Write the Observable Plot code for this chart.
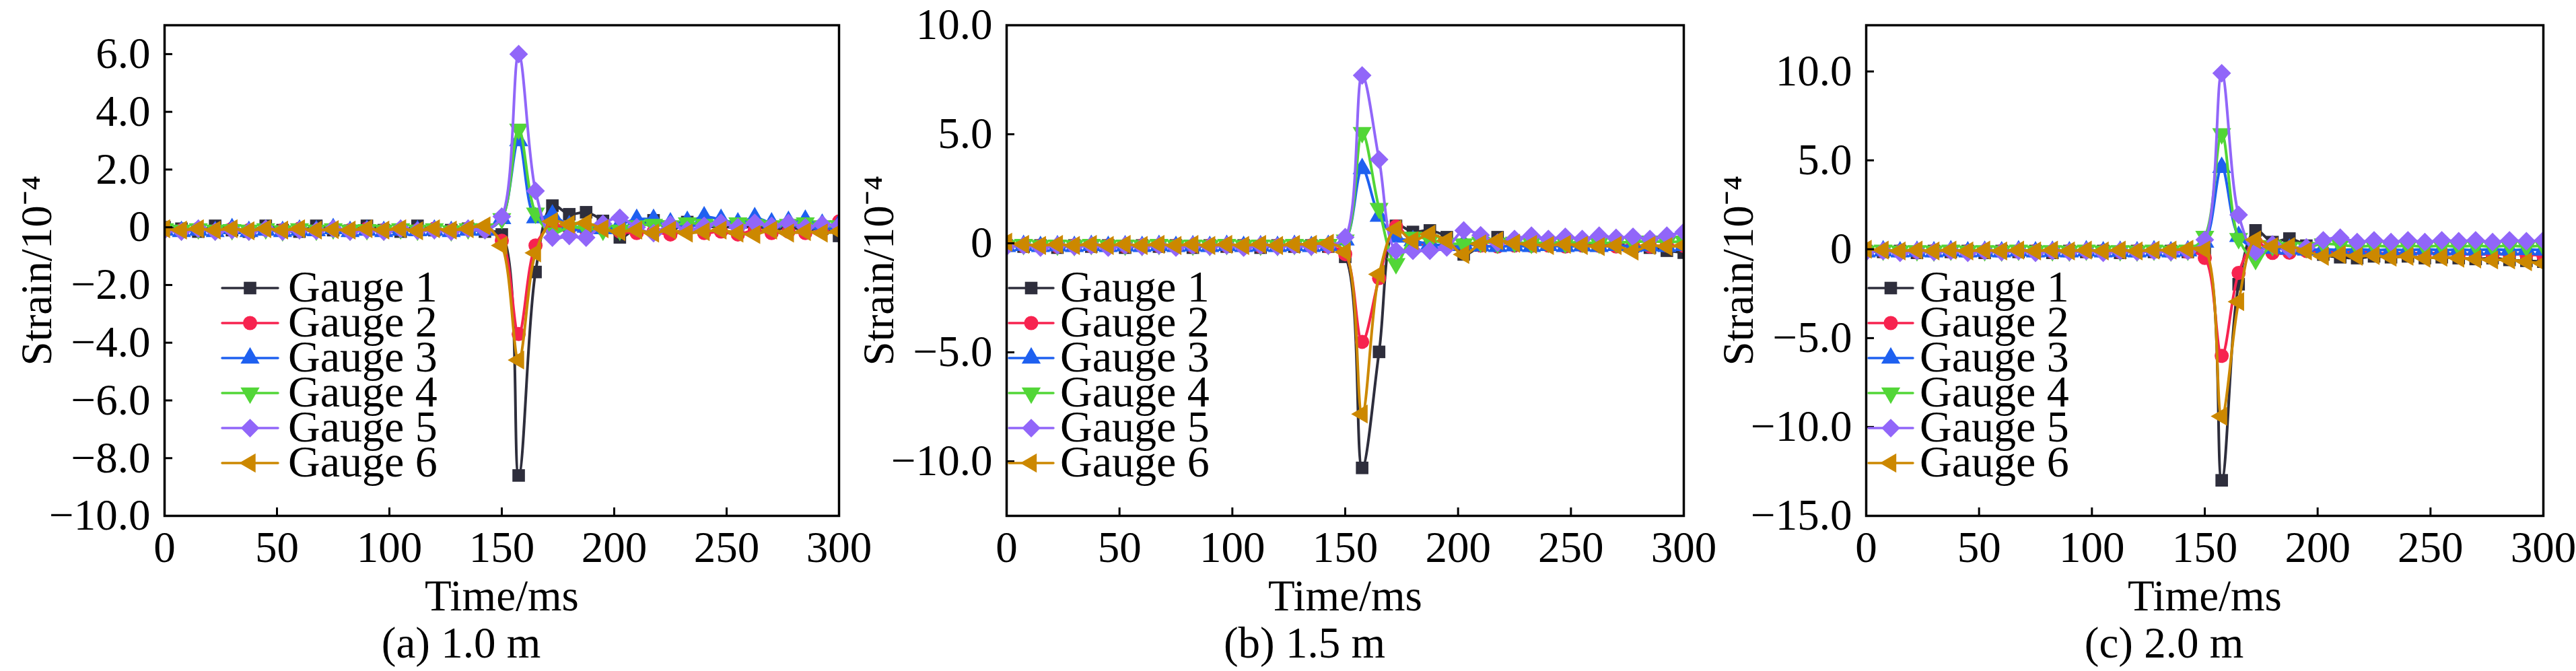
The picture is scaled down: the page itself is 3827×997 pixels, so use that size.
<!DOCTYPE html>
<html><head><meta charset="utf-8">
<script src="https://cdn.jsdelivr.net/npm/d3@7"></script>
<script src="https://cdn.jsdelivr.net/npm/@observablehq/plot@0.6"></script>
<style>
html,body{margin:0;padding:0;background:#fff;}
#root{position:relative;width:3827px;height:997px;overflow:hidden;background:#fff;}
#root > div.panel{position:absolute;top:0;}
#overlay{position:absolute;left:0;top:0;pointer-events:none;}
</style></head><body><div id="root"></div>
<script>
const FONT = '"Liberation Serif","Times New Roman",serif';

// sample times (ms)
const time = [0,7.5,15,22.5,30,37.5,45,52.5,60,67.5,75,82.5,90,97.5,105,112.5,120,127.5,135,142.5,150,157.5,165,172.5,180,187.5,195,202.5,210,217.5,225,232.5,240,247.5,255,262.5,270,277.5,285,292.5,300];

const gauges = ["Gauge 1","Gauge 2","Gauge 3","Gauge 4","Gauge 5","Gauge 6"];
const colors = ["#2e2e3c","#f7234f","#1e60f0","#52d637","#9166f9","#cc8800"];
const symbols = ["square","circle","triangle","triangle","diamond2","triangle"];
const rotations = [0,0,0,180,0,-90];
const radii = [10.5,10.5,10.5,10.5,12.5,10.5];

const xTicks = [0,50,100,150,200,250,300];

// (a) 1.0 m
const a1 = [0.0,-0.05,-0.15,0.05,-0.1,-0.15,0.05,-0.1,-0.15,0.05,-0.1,-0.12,0.05,-0.1,-0.15,0.05,-0.1,-0.1,-0.05,-0.15,-0.25,-8.6,-1.55,0.75,0.45,0.52,0.22,-0.35,0.0,0.24,-0.12,0.18,0.0,0.05,-0.05,0.05,-0.1,0.0,-0.1,-0.05,-0.3];
const a2 = [-0.05,-0.1,-0.05,-0.12,-0.05,-0.1,-0.08,-0.1,-0.05,-0.12,-0.05,-0.1,-0.05,-0.1,-0.08,-0.1,-0.05,-0.12,-0.05,-0.1,-0.47,-3.7,-0.63,0.05,-0.05,-0.1,-0.06,-0.15,-0.2,-0.15,-0.25,-0.1,-0.2,-0.15,-0.25,-0.1,-0.2,-0.15,-0.2,-0.1,0.2];
const a3 = [-0.1,-0.15,-0.1,-0.15,-0.05,-0.15,-0.1,-0.15,-0.1,-0.12,-0.05,-0.15,-0.1,-0.15,-0.1,-0.12,-0.1,-0.15,-0.1,-0.1,0.3,3.0,0.33,0.42,0.05,0.0,-0.05,0.1,0.27,0.27,0.15,0.2,0.36,0.27,0.15,0.33,0.15,0.2,0.24,0.1,0.1];
const a4 = [-0.05,-0.1,-0.05,-0.1,-0.08,-0.1,-0.05,-0.12,-0.05,-0.1,-0.05,-0.1,-0.08,-0.1,-0.05,-0.1,-0.05,-0.12,-0.05,-0.05,0.3,3.4,0.49,-0.2,0.0,-0.05,-0.1,-0.1,0.05,0.1,0.05,0.15,0.1,0.05,0.15,0.1,0.05,0.1,0.15,0.05,0.05];
const a5 = [-0.1,-0.15,-0.05,-0.15,-0.1,-0.15,-0.05,-0.15,-0.1,-0.12,-0.05,-0.15,-0.1,-0.15,-0.05,-0.12,-0.1,-0.15,-0.05,-0.1,0.37,6.0,1.26,-0.36,-0.3,-0.36,0.12,0.33,0.0,-0.2,0.1,-0.1,0.05,0.15,0.0,0.15,0.05,0.15,0.0,0.1,0.05];
const a6 = [-0.05,-0.1,-0.05,-0.1,-0.05,-0.12,-0.05,-0.1,-0.05,-0.1,-0.08,-0.1,-0.05,-0.1,-0.05,-0.12,-0.05,-0.1,-0.05,0.05,-0.63,-4.6,-0.89,0.2,0.1,0.15,-0.05,-0.15,-0.1,-0.2,-0.1,-0.2,-0.15,-0.1,-0.2,-0.25,-0.1,-0.2,-0.15,-0.2,-0.15];

// (b) 1.5 m
const b1 = [-0.1,-0.15,-0.1,-0.2,-0.1,-0.15,-0.1,-0.2,-0.1,-0.15,-0.1,-0.2,-0.1,-0.15,-0.1,-0.2,-0.1,-0.15,-0.1,-0.15,-0.62,-10.3,-4.98,0.8,0.52,0.59,0.28,-0.51,-0.1,0.28,0.0,-0.05,0.0,-0.1,-0.05,-0.1,-0.05,-0.15,-0.2,-0.34,-0.43];
const b2 = [-0.1,-0.12,-0.1,-0.15,-0.1,-0.12,-0.1,-0.15,-0.1,-0.12,-0.1,-0.15,-0.1,-0.12,-0.1,-0.15,-0.1,-0.12,-0.1,-0.15,-0.5,-4.52,-1.6,0.77,0.03,-0.05,-0.1,-0.05,-0.1,-0.15,-0.1,-0.12,-0.1,-0.15,-0.1,-0.12,-0.15,-0.1,-0.15,-0.1,-0.12];
const b3 = [-0.15,-0.1,-0.15,-0.12,-0.15,-0.1,-0.15,-0.12,-0.15,-0.1,-0.15,-0.12,-0.15,-0.1,-0.15,-0.12,-0.15,-0.1,-0.15,-0.1,0.15,3.42,1.24,0.28,0.12,-0.03,-0.1,-0.03,-0.12,-0.15,-0.12,-0.15,-0.1,-0.15,-0.12,-0.15,-0.1,-0.15,-0.12,-0.15,-0.1];
const b4 = [-0.1,-0.05,-0.1,-0.08,-0.1,-0.05,-0.1,-0.08,-0.1,-0.05,-0.1,-0.08,-0.1,-0.05,-0.1,-0.08,-0.1,-0.05,-0.1,-0.05,0.15,5.08,1.6,-0.93,0.28,0.15,0.0,-0.03,0.05,0.0,0.05,0.0,0.05,0.02,0.05,0.0,0.05,0.05,0.1,0.05,0.1];
const b5 = [-0.15,-0.1,-0.2,-0.1,-0.15,-0.1,-0.2,-0.1,-0.15,-0.1,-0.2,-0.1,-0.15,-0.1,-0.2,-0.1,-0.15,-0.1,-0.15,-0.1,0.28,7.7,3.84,-0.34,-0.34,-0.34,-0.19,0.59,0.37,0.03,0.2,0.35,0.2,0.3,0.2,0.35,0.25,0.3,0.2,0.35,0.52];
const b6 = [0.05,-0.05,-0.1,-0.05,-0.1,-0.05,-0.1,-0.05,-0.1,-0.05,-0.1,-0.05,-0.1,-0.05,-0.1,-0.05,-0.1,-0.05,-0.05,0.0,-0.4,-7.83,-1.42,0.65,0.12,0.42,0.12,-0.51,-0.03,0.12,0.0,-0.05,-0.1,-0.05,-0.1,-0.15,-0.1,-0.36,-0.1,-0.15,-0.1];

// (c) 2.0 m
const c1 = [-0.1,-0.15,-0.1,-0.2,-0.1,-0.15,-0.1,-0.2,-0.1,-0.15,-0.1,-0.2,-0.1,-0.15,-0.1,-0.2,-0.1,-0.15,-0.1,-0.15,-0.23,-13.0,-1.97,1.06,0.4,0.6,0.2,-0.3,-0.45,-0.5,-0.4,-0.45,-0.4,-0.5,-0.45,-0.5,-0.55,-0.5,-0.6,-0.65,-0.7];
const c2 = [-0.1,-0.12,-0.1,-0.15,-0.1,-0.12,-0.1,-0.15,-0.1,-0.12,-0.1,-0.15,-0.1,-0.12,-0.1,-0.15,-0.1,-0.12,-0.1,-0.15,-0.49,-6.0,-1.33,0.42,-0.21,-0.2,-0.1,-0.15,-0.2,-0.15,-0.2,-0.25,-0.2,-0.25,-0.2,-0.3,-0.25,-0.3,-0.25,-0.3,-0.35];
const c3 = [-0.15,-0.1,-0.15,-0.12,-0.15,-0.1,-0.15,-0.12,-0.15,-0.1,-0.15,-0.12,-0.15,-0.1,-0.15,-0.12,-0.15,-0.1,-0.15,-0.1,0.4,4.6,0.72,0.08,0.05,0.0,-0.05,0.0,-0.05,0.0,-0.05,-0.02,-0.05,0.0,-0.05,-0.02,-0.05,0.0,-0.05,-0.02,-0.05];
const c4 = [-0.1,-0.05,-0.1,-0.08,-0.1,-0.05,-0.1,-0.08,-0.1,-0.05,-0.1,-0.08,-0.1,-0.05,-0.1,-0.08,-0.1,-0.05,-0.1,-0.05,0.72,6.5,0.6,-0.57,0.2,0.1,0.1,0.3,0.25,0.15,0.2,0.15,0.2,0.15,0.2,0.15,0.2,0.15,0.2,0.15,0.2];
const c5 = [-0.15,-0.1,-0.2,-0.1,-0.15,-0.1,-0.2,-0.1,-0.15,-0.1,-0.2,-0.1,-0.15,-0.1,-0.2,-0.1,-0.15,-0.1,-0.15,-0.1,0.53,9.9,1.93,-0.15,0.27,0.0,0.1,0.5,0.65,0.4,0.5,0.4,0.5,0.4,0.5,0.45,0.5,0.4,0.5,0.45,0.5];
const c6 = [0.0,-0.05,-0.1,-0.05,-0.1,-0.05,-0.1,-0.05,-0.1,-0.05,-0.1,-0.05,-0.1,-0.05,-0.1,-0.05,-0.1,-0.05,-0.05,0.0,-0.04,-9.4,-2.95,0.53,0.15,0.15,-0.1,-0.4,-0.3,-0.4,-0.35,-0.45,-0.4,-0.5,-0.45,-0.5,-0.55,-0.6,-0.6,-0.7,-0.8];

const panels = [
  {series:[a1,a2,a3,a4,a5,a6], yDomain:[-10,7], yTicks:[-10,-8,-6,-4,-2,0,2,4,6], caption:"(a) 1.0 m",
   svgLeft:0, width:1276, marginLeft:244, marginRight:30, legendLine:[86,169], legendText:184},
  {series:[b1,b2,b3,b4,b5,b6], yDomain:[-12.5,10], yTicks:[-10,-5,0,5,10], caption:"(b) 1.5 m",
   svgLeft:1276, width:1255, marginLeft:219, marginRight:30, legendLine:[4,70], legendText:80},
  {series:[c1,c2,c3,c4,c5,c6], yDomain:[-15,12.6], yTicks:[-15,-10,-5,0,5,10], caption:"(c) 2.0 m",
   svgLeft:2531, width:1296, marginLeft:241, marginRight:49, legendLine:[4,70], legendText:80}
];

const H = 940, MT = 37, MB = 174;
const fmt = d => d === 0 ? "0" : d3.format(".1f")(d);
const blank = () => "";
const root = document.getElementById("root");

panels.forEach(p => {
  const marks = [];
  p.series.forEach((vals, gi) => {
    const rows = time.map((t, i) => ({t, v: vals[i]}));
    marks.push(Plot.line(rows, {x:"t", y:"v", stroke: colors[gi], strokeWidth: 4, curve: "catmull-rom", clip: true}));
    marks.push(Plot.dot(rows, {x:"t", y:"v", symbol: symbols[gi], rotate: rotations[gi], r: radii[gi], fill: colors[gi], stroke: "none", clip: true}));
  });
  // inward tick marks
  marks.push(Plot.axisY({ticks: p.yTicks, tickSize: 12, dx: 12, tickFormat: blank, label: null, strokeWidth: 3}));
  // tick labels and title
  marks.push(Plot.axisY({ticks: p.yTicks, tickSize: 0, tickPadding: 21, tickFormat: fmt, fontSize: 65,
    label: "Strain/10\u207B\u2074", labelAnchor: "center", labelOffset: 215, labelArrow: "none"}));
  marks.push(Plot.axisX({ticks: xTicks, tickSize: 12, dy: -12, tickFormat: blank, label: null, strokeWidth: 3}));
  marks.push(Plot.axisX({ticks: xTicks, tickSize: 0, tickPadding: 22, fontSize: 65,
    label: "Time/ms", labelAnchor: "center", labelOffset: 140, labelArrow: "none"}));
  marks.push(Plot.frame({stroke: "black", strokeWidth: 3.5}));

  const chart = Plot.plot({
    width: p.width, height: H,
    marginLeft: p.marginLeft, marginRight: p.marginRight, marginTop: MT, marginBottom: MB,
    x: {domain: [0, 300]},
    y: {domain: p.yDomain},
    style: {fontFamily: FONT, fontSize: "65px", color: "black", background: "transparent", overflow: "visible"},
    marks
  });
  const wrap = document.createElement("div");
  wrap.className = "panel";
  wrap.style.left = p.svgLeft + "px";
  wrap.appendChild(chart);
  root.appendChild(wrap);
});

// overlay: legends inside each frame and captions below
const ov = d3.select(root).append("svg").attr("id","overlay").attr("width",3827).attr("height",997);
const legendRows = [428, 480, 532, 584, 636, 688];
const symMap = {square: d3.symbolSquare, circle: d3.symbolCircle, triangle: d3.symbolTriangle, diamond2: d3.symbolDiamond2};
panels.forEach(p => {
  const fl = p.svgLeft + p.marginLeft;
  const fr = p.svgLeft + p.width - p.marginRight;
  gauges.forEach((g, gi) => {
    const y = legendRows[gi];
    const x1 = fl + p.legendLine[0], x2 = fl + p.legendLine[1];
    ov.append("line").attr("x1",x1).attr("x2",x2).attr("y1",y).attr("y2",y)
      .attr("stroke",colors[gi]).attr("stroke-width",3.5).attr("stroke-linecap","round");
    ov.append("path").attr("d", d3.symbol(symMap[symbols[gi]], Math.PI*radii[gi]*radii[gi])())
      .attr("transform",`translate(${(x1+x2)/2},${y}) rotate(${rotations[gi]})`).attr("fill",colors[gi]);
    ov.append("text").attr("x", fl + p.legendText).attr("y", y + 20)
      .attr("font-family", FONT).attr("font-size", 66).attr("fill","black").text(g);
  });
  ov.append("text").attr("x", (fl+fr)/2 - 60).attr("y", 977).attr("text-anchor","middle")
    .attr("font-family", FONT).attr("font-size", 65).attr("fill","black").text(p.caption);
});
</script></body></html>
